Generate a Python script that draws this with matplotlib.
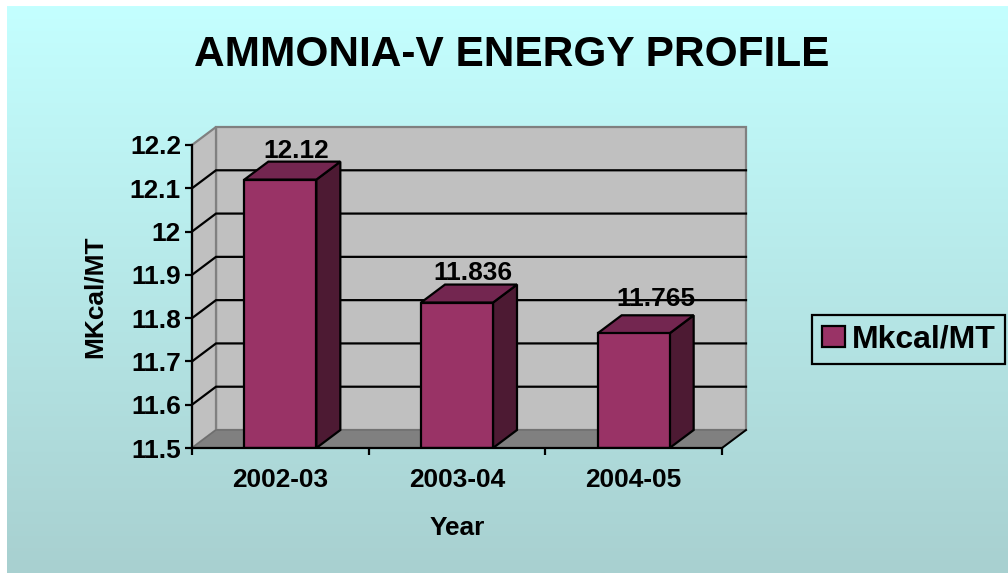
#!/usr/bin/env python3

import matplotlib

matplotlib.use("Agg")
import matplotlib.pyplot as plt
import numpy as np
from matplotlib.colors import LinearSegmentedColormap
from matplotlib.patches import Polygon

years = ["2002-03", "2003-04", "2004-05"]
values = [12.12, 11.836, 11.765]
value_labels = ["12.12", "11.836", "11.765"]
y_ticks = [11.5, 11.6, 11.7, 11.8, 11.9, 12.0, 12.1, 12.2]
y_tick_labels = ["11.5", "11.6", "11.7", "11.8", "11.9", "12", "12.1", "12.2"]
label_lift = [-0.004, -0.001, 0.009]
label_shift = [0.09, 0.09, 0.125]

W, H = 1008, 573
BAR_WIDTH = 72 / (530 / 3)
DEPTH_X = 24 / (530 / 3)
DEPTH_Y = 18 / (303 / 0.7)
FRONT = "#993366"
TOP = "#732650"
SIDE = "#4D1A33"
FONT = 18.9


def add_poly(ax, pts, face, edge, lw, z):
    ax.add_patch(
        Polygon(pts, closed=True, facecolor=face, edgecolor=edge, linewidth=lw,
                zorder=z, clip_on=False, joinstyle="miter")
    )


def draw_walls(ax, y_min, y_max, x_max):
    dx, dy = DEPTH_X, DEPTH_Y
    add_poly(ax, [(dx, y_min + dy), (x_max + dx, y_min + dy), (x_max + dx, y_max + dy),
                  (dx, y_max + dy)], "#C0C0C0", "#808080", 1.6, 1)
    add_poly(ax, [(0, y_min), (dx, y_min + dy), (dx, y_max + dy), (0, y_max)],
             "#C0C0C0", "#808080", 1.6, 1)
    add_poly(ax, [(0, y_min), (x_max, y_min), (x_max + dx, y_min + dy), (dx, y_min + dy)],
             "#808080", "#6E6E6E", 1.0, 1.5)
    # floor edge on the right side is black in the original
    ax.plot([x_max, x_max + dx], [y_min, y_min + dy], color="black", lw=1.4, zorder=1.6,
            clip_on=False)
    for t in y_ticks[1:-1]:
        ax.plot([0, dx, x_max + dx], [t, t + dy, t + dy], color="black", lw=1.6, zorder=2,
                clip_on=False, solid_joinstyle="miter")


def draw_bars(ax, y_min):
    dx, dy = DEPTH_X, DEPTH_Y
    xs = np.arange(len(values)) + 0.5
    bars = ax.bar(xs, np.array(values) - y_min, BAR_WIDTH, bottom=y_min, color=FRONT,
                  edgecolor="black", linewidth=1.6, zorder=4, label="Mkcal/MT")
    for x, v, text, lift, shift in zip(xs, values, value_labels, label_lift, label_shift):
        left, right = x - BAR_WIDTH / 2, x + BAR_WIDTH / 2
        add_poly(ax, [(right, y_min), (right + dx, y_min + dy), (right + dx, v + dy), (right, v)],
                 SIDE, "black", 1.6, 3)
        add_poly(ax, [(left, v), (right, v), (right + dx, v + dy), (left + dx, v + dy)],
                 TOP, "black", 1.6, 3)
        ax.text(x + shift, v + dy + lift, text, ha="center", va="bottom",
                fontsize=FONT, fontweight="bold", zorder=6, clip_on=False)
    return bars


def main() -> None:
    plt.rcParams["font.family"] = ["Liberation Sans", "DejaVu Sans"]
    fig = plt.figure(figsize=(W / 100, H / 100), dpi=100, facecolor="white")

    bg = fig.add_axes([7 / W, 0, 1 - 7 / W, 1 - 6 / H])
    cmap = LinearSegmentedColormap.from_list("bg", ["#C4FFFF", "#A8D0D0"])
    bg.imshow(np.linspace(0, 1, 256).reshape(-1, 1), aspect="auto", cmap=cmap)
    bg.axis("off")

    ax = fig.add_axes([192 / W, 1 - 448 / H, 530 / W, 303 / H])
    ax.patch.set_visible(False)
    ax.set_xlim(0, len(years))
    ax.set_ylim(y_ticks[0], y_ticks[-1])

    draw_walls(ax, y_ticks[0], y_ticks[-1], len(years))
    bars = draw_bars(ax, y_ticks[0])

    for side in ("top", "right"):
        ax.spines[side].set_visible(False)
    for side in ("left", "bottom"):
        ax.spines[side].set_linewidth(1.6)
        ax.spines[side].set_zorder(5)

    ax.set_yticks(y_ticks, y_tick_labels, fontsize=FONT, fontweight="bold")
    ax.set_xticks(range(len(years) + 1), [""] * (len(years) + 1))
    ax.set_xticks(np.arange(len(years)) + 0.5, years, minor=True, fontsize=FONT,
                  fontweight="bold")
    ax.tick_params(axis="y", length=5, width=1.6, pad=3)
    ax.tick_params(axis="x", which="major", length=5, width=1.6)
    ax.tick_params(axis="x", which="minor", length=0, pad=14.5)

    ax.set_xlabel("Year", fontsize=FONT, fontweight="bold", labelpad=17)
    fig.text(95 / W, 1 - 297 / H, "MKcal/MT", rotation=90, ha="center", va="center",
             fontsize=FONT, fontweight="bold")
    fig.text(512 / W, 1 - 55 / H, "AMMONIA-V ENERGY PROFILE", ha="center", va="center",
             fontsize=30.5, fontweight="bold")

    legend = fig.legend(handles=[bars], loc="upper left", bbox_to_anchor=(812 / W, 1 - 315 / H),
                        borderaxespad=0, fontsize=23, fancybox=False, edgecolor="black",
                        handlelength=0.72, handleheight=0.65, handletextpad=0.22,
                        borderpad=0.3)
    legend.get_frame().set_facecolor("none")
    legend.get_frame().set_alpha(None)
    legend.get_frame().set_edgecolor("black")
    legend.get_frame().set_linewidth(1.6)
    for text in legend.get_texts():
        text.set_fontweight("bold")

    fig.savefig("out.png", dpi=100)
    plt.close(fig)


if __name__ == "__main__":
    main()
